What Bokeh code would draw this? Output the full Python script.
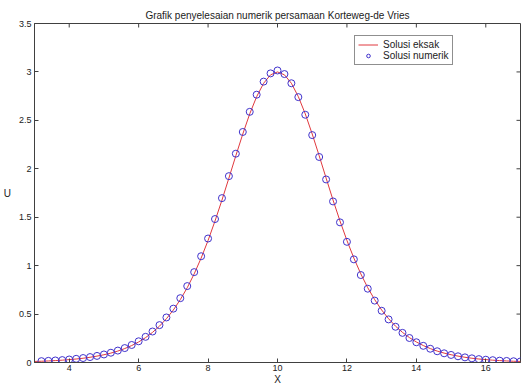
from bokeh.plotting import figure
from bokeh.models import FixedTicker, Legend, LegendItem, Range1d
from bokeh.embed import file_html
from bokeh.resources import INLINE

# ---- data ----
x_eksak = [3.0, 3.2, 3.4, 3.6, 3.8, 4.0, 4.2, 4.4, 4.6, 4.8,
           5.0, 5.2, 5.4, 5.6, 5.8, 6.0, 6.2, 6.4, 6.6, 6.8,
           7.0, 7.2, 7.4, 7.6, 7.8, 8.0, 8.2, 8.4, 8.6, 8.8,
           9.0, 9.2, 9.4, 9.6, 9.8, 10.0, 10.2, 10.4, 10.6, 10.8,
           11.0, 11.2, 11.4, 11.6, 11.8, 12.0, 12.2, 12.4, 12.6, 12.8,
           13.0, 13.2, 13.4, 13.6, 13.8, 14.0, 14.2, 14.4, 14.6, 14.8,
           15.0, 15.2, 15.4, 15.6, 15.8, 16.0, 16.2, 16.4, 16.6, 16.8, 17.0]
u_eksak = [0.011, 0.013, 0.016, 0.020, 0.024, 0.030, 0.036, 0.044, 0.054, 0.066,
           0.080, 0.097, 0.118, 0.144, 0.175, 0.212, 0.257, 0.311, 0.375, 0.452,
           0.542, 0.649, 0.772, 0.915, 1.078, 1.260, 1.461, 1.677, 1.904, 2.135,
           2.359, 2.567, 2.745, 2.883, 2.970, 3.000, 2.970, 2.883, 2.745, 2.567,
           2.359, 2.135, 1.904, 1.677, 1.461, 1.260, 1.078, 0.915, 0.772, 0.649,
           0.542, 0.452, 0.375, 0.311, 0.257, 0.212, 0.175, 0.144, 0.118, 0.097,
           0.080, 0.066, 0.054, 0.044, 0.036, 0.030, 0.024, 0.020, 0.016, 0.013, 0.011]

x_numerik = [3.2, 3.4, 3.6, 3.8, 4.0, 4.2, 4.4, 4.6, 4.8,
             5.0, 5.2, 5.4, 5.6, 5.8, 6.0, 6.2, 6.4, 6.6, 6.8,
             7.0, 7.2, 7.4, 7.6, 7.8, 8.0, 8.2, 8.4, 8.6, 8.8,
             9.0, 9.2, 9.4, 9.6, 9.8, 10.0, 10.2, 10.4, 10.6, 10.8,
             11.0, 11.2, 11.4, 11.6, 11.8, 12.0, 12.2, 12.4, 12.6, 12.8,
             13.0, 13.2, 13.4, 13.6, 13.8, 14.0, 14.2, 14.4, 14.6, 14.8,
             15.0, 15.2, 15.4, 15.6, 15.8, 16.0, 16.2, 16.4, 16.6, 16.8, 17.0]
u_numerik = [0.014, 0.017, 0.021, 0.025, 0.031, 0.038, 0.046, 0.056, 0.068,
             0.083, 0.101, 0.123, 0.149, 0.181, 0.219, 0.265, 0.320, 0.386, 0.465,
             0.556, 0.664, 0.789, 0.933, 1.097, 1.280, 1.481, 1.697, 1.924, 2.156,
             2.380, 2.588, 2.765, 2.900, 2.985, 3.015, 2.978, 2.883, 2.740, 2.558,
             2.348, 2.122, 1.890, 1.663, 1.447, 1.246, 1.065, 0.903, 0.762, 0.639,
             0.534, 0.445, 0.369, 0.306, 0.253, 0.209, 0.172, 0.142, 0.116, 0.095,
             0.078, 0.064, 0.053, 0.043, 0.035, 0.029, 0.024, 0.019, 0.016, 0.013, 0.011]

x_ticks = [4, 6, 8, 10, 12, 14, 16]
y_ticks = [0, 0.5, 1, 1.5, 2, 2.5, 3, 3.5]
x_lo, x_hi = 3, 17
y_lo, y_hi = 0, 3.5

judul = "Grafik penyelesaian numerik persamaan Korteweg-de Vries"
FONT = "Liberation Sans"
AXC = "#404040"
TXC = "#222222"

W, H = 521, 387
BL, BR, BT, BB = 33, 1, 23, 24

p = figure(width=W, height=H, output_backend="svg", toolbar_location=None,
           x_range=Range1d(x_lo, x_hi), y_range=Range1d(y_lo, y_hi),
           min_border_left=BL, min_border_right=BR, min_border_top=BT, min_border_bottom=BB)
p.background_fill_color = "white"
p.border_fill_color = "white"
p.grid.visible = False
p.outline_line_color = AXC
p.outline_line_width = 1

p.title.text = judul
p.title.align = "center"
p.title.text_font = FONT
p.title.text_font_size = "10px"
p.title.text_font_style = "normal"
p.title.text_color = TXC
p.title.standoff = 5

def style(ax):
    ax.major_tick_in = 4
    ax.major_tick_out = 0
    ax.minor_tick_line_color = None
    ax.axis_line_color = AXC
    ax.major_tick_line_color = AXC
    ax.major_label_text_font = FONT
    ax.major_label_text_color = TXC
    ax.major_label_text_font_size = "9px"
    ax.axis_label_text_font = FONT
    ax.axis_label_text_font_size = "10px"
    ax.axis_label_text_font_style = "normal"
    ax.axis_label_text_color = TXC

xa = p.xaxis[0]
xa.ticker = FixedTicker(ticks=x_ticks)
style(xa)
xa.major_label_standoff = 2
xa.axis_label = "X"
xa.axis_label_standoff = 0

ya = p.yaxis[0]
ya.ticker = FixedTicker(ticks=y_ticks)
style(ya)
ya.major_label_standoff = 3
ya.axis_label = "U"
ya.axis_label_standoff = 5
ya.axis_label_orientation = "horizontal"

# inward ticks on the top and right edges of the box (MATLAB style)
frame_w = W - BL - BR
frame_h = H - BT - BB
tx = 4 * (x_hi - x_lo) / frame_w
ty = 4 * (y_hi - y_lo) / frame_h
p.segment(x0=x_ticks, y0=[y_hi] * len(x_ticks), x1=x_ticks, y1=[y_hi - ty] * len(x_ticks),
          line_color=AXC, line_width=1)
p.segment(x0=[x_hi] * len(y_ticks), y0=y_ticks, x1=[x_hi - tx] * len(y_ticks), y1=y_ticks,
          line_color=AXC, line_width=1)

r_line = p.line(x_eksak, u_eksak, line_color="#e0393e", line_width=1)
r_circ = p.scatter(x_numerik, u_numerik, marker="circle", size=7,
                   fill_color=None, line_color="#4032cc", line_width=1)

legend = Legend(items=[LegendItem(label="Solusi eksak", renderers=[r_line]),
                       LegendItem(label="Solusi numerik", renderers=[r_circ])],
                location=(320, 297))
legend.border_line_color = "#202020"
legend.border_line_width = 1
legend.label_text_font = FONT
legend.label_text_font_size = "10px"
legend.label_text_color = TXC
legend.label_height = 9
legend.glyph_height = 9
legend.glyph_width = 20
legend.label_standoff = 5
legend.spacing = 0
legend.padding = 3
legend.margin = 0
legend.background_fill_color = "white"
p.add_layout(legend, "center")

open("out.html", "w").write(file_html(p, INLINE))
